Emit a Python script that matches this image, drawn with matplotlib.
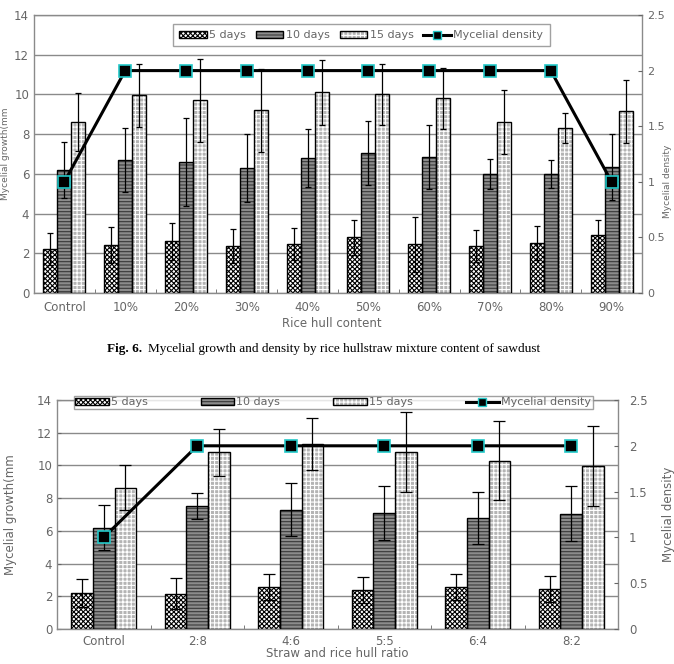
import numpy as np
import matplotlib
matplotlib.use("Agg")
import matplotlib.pyplot as plt
from matplotlib.patches import Patch
from matplotlib.lines import Line2D
from matplotlib.legend_handler import HandlerTuple

# ---- data, Fig. 6 (rice hull content) ----
top_cats = ["Control", "10%", "20%", "30%", "40%", "50%", "60%", "70%", "80%", "90%"]
top_5d = [2.2, 2.4, 2.6, 2.35, 2.45, 2.8, 2.45, 2.35, 2.5, 2.9]
top_5d_err = [0.8, 0.9, 0.95, 0.85, 0.8, 0.9, 1.4, 0.8, 0.85, 0.8]
top_10d = [6.2, 6.7, 6.6, 6.3, 6.8, 7.05, 6.85, 6.0, 6.0, 6.35]
top_10d_err = [1.4, 1.6, 2.2, 1.7, 1.45, 1.6, 1.6, 0.75, 0.72, 1.65]
top_15d = [8.6, 9.95, 9.7, 9.2, 10.1, 10.0, 9.8, 8.6, 8.3, 9.15]
top_15d_err = [1.45, 1.6, 2.1, 2.1, 1.65, 1.55, 1.55, 1.6, 0.75, 1.6]
top_density = [1, 2, 2, 2, 2, 2, 2, 2, 2, 1]

# ---- data, second chart (straw : rice hull ratio) ----
bot_cats = ["Control", "2:8", "4:6", "5:5", "6:4", "8:2"]
bot_5d = [2.2, 2.15, 2.55, 2.4, 2.55, 2.45]
bot_5d_err = [0.85, 0.95, 0.8, 0.8, 0.8, 0.8]
bot_10d = [6.2, 7.5, 7.3, 7.1, 6.8, 7.05]
bot_10d_err = [1.4, 0.8, 1.6, 1.65, 1.6, 1.7]
bot_15d = [8.65, 10.8, 11.3, 10.8, 10.3, 9.95]
bot_15d_err = [1.4, 1.45, 1.6, 2.45, 2.4, 2.45]
bot_density = [1, 2, 2, 2, 2, 2]

series_names = ["5 days", "10 days", "15 days"]
density_name = "Mycelial density"

# styles: (face, hatch, hatch colour)
styles = [("white", "xxxxxxx", "black"),
          ("#8c8c8c", "-----", "#3a3a3a"),
          ("#b4b4b4", "++++", "white")]

TXT = "#666666"
GRID = "#8a8a8a"
CYAN = "#22c8c8"

plt.rcParams["font.family"] = ["DejaVu Sans"]
plt.rcParams["hatch.linewidth"] = 0.8


def draw_chart(ax, cats, vals, errs, density, xlabel, msize, capsize, fs):
    x = np.arange(len(cats))
    w = 0.23
    for i, (v, e) in enumerate(zip(vals, errs)):
        face, hatch, hcol = styles[i]
        pos = x + (i - 1) * w
        ax.bar(pos, v, w, color=face, hatch=hatch, edgecolor=hcol, linewidth=0, zorder=2)
        ax.bar(pos, v, w, fill=False, edgecolor="black", linewidth=1.0, zorder=3)
        ax.errorbar(pos, v, yerr=e, fmt="none", ecolor="black", elinewidth=0.9,
                    capsize=capsize, capthick=0.9, zorder=4)
    ax.set_xlim(-0.5, len(cats) - 0.5)
    ax.set_ylim(0, 14)
    ax.set_yticks(np.arange(0, 15, 2))
    ax.set_xticks(x)
    ax.set_xticklabels(cats)
    ax.set_xticks(np.arange(0.5, len(cats) - 0.5, 1), minor=True)
    ax.tick_params(axis="x", which="major", length=0, colors=TXT, labelsize=fs, pad=6)
    ax.tick_params(axis="x", which="minor", length=3, direction="in", color=TXT)
    ax.tick_params(axis="y", length=3, direction="in", colors=TXT, labelsize=fs)
    ax.yaxis.grid(True, color=GRID, linewidth=1.0, zorder=0)
    ax.set_axisbelow(True)
    for s in ax.spines.values():
        s.set_color(GRID)
        s.set_linewidth(1.0)
    ax.set_xlabel(xlabel, color=TXT, fontsize=fs, labelpad=0)
    ax.set_ylabel("Mycelial growth(mm", color=TXT, fontsize=fs)

    ax2 = ax.twinx()
    ax2.plot(x, density, color="black", linewidth=2.2, marker="s", markersize=msize,
             markerfacecolor="black", markeredgecolor=CYAN, markeredgewidth=1.2, zorder=5)
    ax2.set_ylim(0, 2.5)
    ax2.set_yticks([0, 0.5, 1, 1.5, 2, 2.5])
    ax2.set_yticklabels(["0", "0.5", "1", "1.5", "2", "2.5"])
    ax2.tick_params(axis="y", length=3, direction="in", colors=TXT, labelsize=fs, pad=8)
    for s in ax2.spines.values():
        s.set_visible(False)
    ax2.set_ylabel(density_name, color=TXT, fontsize=fs)

    handles = []
    for face, hatch, hcol in styles:
        handles.append((Patch(facecolor=face, hatch=hatch, edgecolor=hcol, linewidth=0),
                        Patch(fill=False, edgecolor="black", linewidth=1.0)))
    handles.append(Line2D([], [], color="black", linewidth=2.2, marker="s", markersize=msize * 0.7,
                          markerfacecolor="black", markeredgecolor=CYAN, markeredgewidth=1.0))
    return ax2, handles


fig = plt.figure(figsize=(6.74, 6.64), dpi=100)

# top chart
ax_t = fig.add_axes([34 / 674, 1 - 293 / 664, 608 / 674, 278 / 664])
ax_t2, h_t = draw_chart(ax_t, top_cats, [top_5d, top_10d, top_15d],
                        [top_5d_err, top_10d_err, top_15d_err], top_density,
                        "Rice hull content", 8, 2.5, 8.5)
ax_t.tick_params(axis="y", length=0)
ax_t2.tick_params(axis="y", labelsize=8, pad=4)
ax_t.yaxis.label.set_fontsize(6.5)
ax_t2.yaxis.label.set_fontsize(6.5)
ax_t.yaxis.set_label_coords(-0.040, 0.5)
ax_t2.yaxis.set_label_coords(1.035, 0.40)
ax_t.xaxis.set_label_coords(0.49, -0.085)
leg = ax_t2.legend(h_t, series_names + [density_name], loc="upper right",
                   bbox_to_anchor=(0.857, 0.987), ncol=4, fontsize=8, frameon=True,
                   fancybox=False, edgecolor=GRID, handlelength=2.5, handleheight=0.6,
                   columnspacing=0.9, handletextpad=0.2, borderpad=0.55,
                   handler_map={tuple: HandlerTuple(ndivide=1)})
leg.get_frame().set_linewidth(1.0)
for t in leg.get_texts():
    t.set_color(TXT)

# caption
fig.text(107 / 674, 1 - 349 / 664, "Fig. 6.", family="Liberation Serif", weight="bold",
         fontsize=9.5, va="center", ha="left")
fig.text(148 / 674, 1 - 349 / 664,
         "Mycelial growth and density by rice hullstraw mixture content of sawdust",
         family="Liberation Serif", fontsize=9.5, va="center", ha="left")

# bottom chart
ax_b = fig.add_axes([57 / 674, 1 - 629 / 664, 561 / 674, 229 / 664])
ax_b2, h_b = draw_chart(ax_b, bot_cats, [bot_5d, bot_10d, bot_15d],
                        [bot_5d_err, bot_10d_err, bot_15d_err], bot_density,
                        "Straw and rice hull ratio", 9, 4, 8.5)
ax_b.tick_params(axis="x", which="major", pad=4)
ax_b.yaxis.set_label_coords(-0.072, 0.5)
ax_b2.yaxis.set_label_coords(1.078, 0.5)
ax_b.xaxis.set_label_coords(0.5, -0.079)
leg2 = ax_b2.legend(h_b, series_names + [density_name], loc="center",
                    bbox_to_anchor=(0.030, 0.955, 0.925, 0.07), mode="expand", ncol=4,
                    fontsize=8, frameon=True, fancybox=False, edgecolor=GRID,
                    handlelength=3.0, handleheight=0.5, handletextpad=0.2, borderpad=0.15,
                    borderaxespad=0, handler_map={tuple: HandlerTuple(ndivide=1)})
leg2.get_frame().set_linewidth(1.0)
for t in leg2.get_texts():
    t.set_color(TXT)

fig.savefig("out.png", dpi=100)
